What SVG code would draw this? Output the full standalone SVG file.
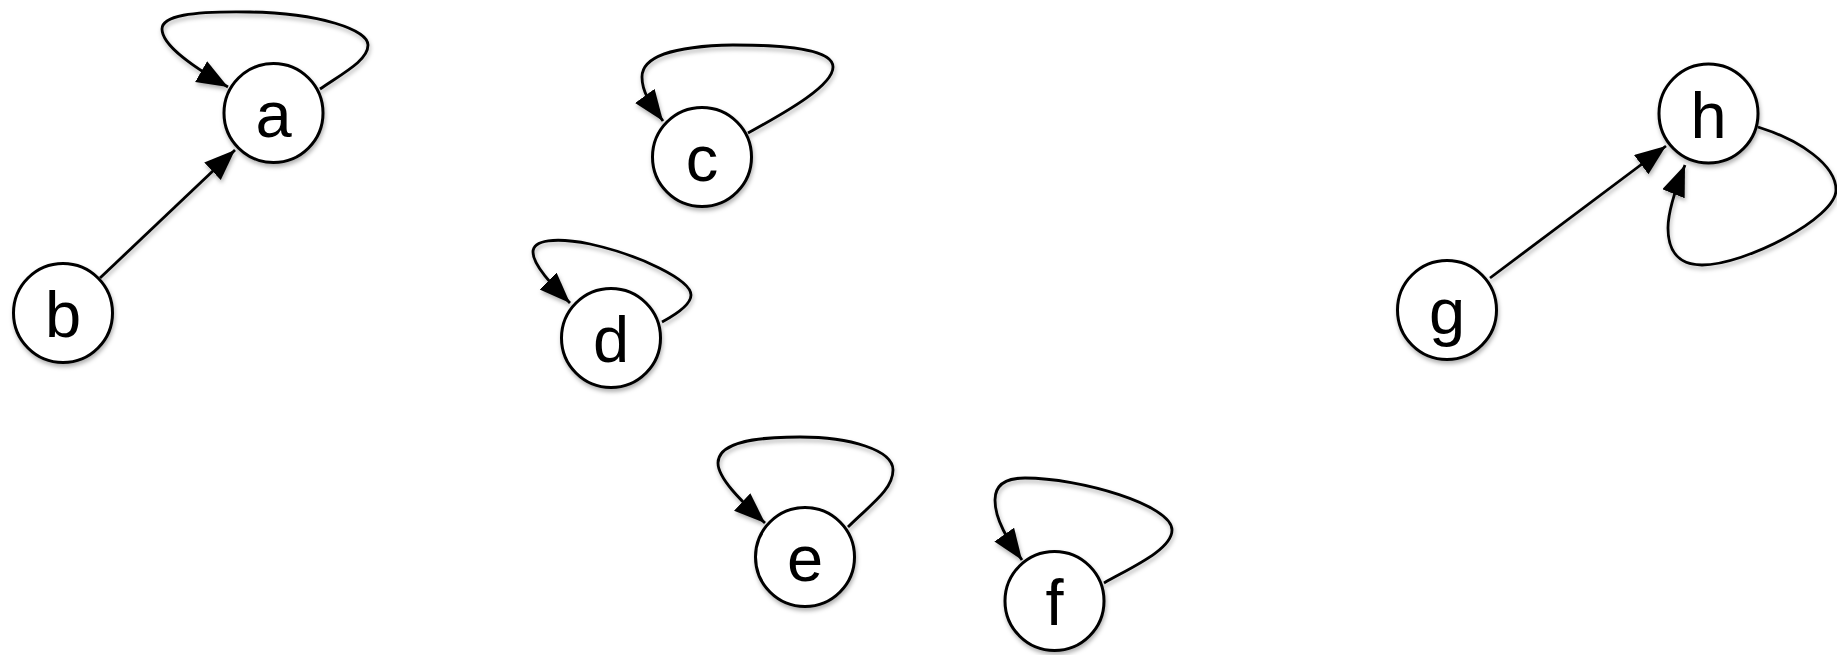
<svg xmlns="http://www.w3.org/2000/svg" width="1837" height="655" viewBox="0 0 1837 655">
<style>
.node circle{fill:#fff;stroke:#000;stroke-width:3}
.node text{font-family:"Liberation Sans",Arial,sans-serif;font-size:65px;fill:#000;text-anchor:middle}
.edge{fill:none;stroke:#000;stroke-width:2.8;marker-end:url(#arr)}
</style>
<defs>
<marker id="arr" markerUnits="userSpaceOnUse" markerWidth="34" markerHeight="26" refX="31" refY="12" orient="auto">
<path d="M0,0 L31,12 L0,24 Z" fill="#000"/>
</marker>
<filter id="sh" x="-20%" y="-20%" width="140%" height="140%">
<feDropShadow dx="1" dy="3" stdDeviation="2" flood-color="#000" flood-opacity="0.3"/>
</filter>
</defs>
<g id="connectors" filter="url(#sh)">
<path class="edge" d="M100 278 L235 150"/>
<path class="edge" d="M1490 278 L1666 146"/>
<path class="edge" d="M320 89 C345 72,368 60,368 45 C368 30,320 13,250 12 C190 11,162 16,162 29 C162 46,195 68,228 87"/>
<path class="edge" d="M748 133 C790 110,833 85,833 67 C833 50,790 45,733 45 C670 46,642 58,642 77 C642 92,650 103,663 121"/>
<path class="edge" d="M662 322 C675 315,691 305,691 295 C691 280,640 255,590 244 C555 237,533 240,533 252 C533 265,552 285,570 303"/>
<path class="edge" d="M848 527 C870 505,893 490,893 470 C893 450,850 437,800 437 C745 437,718 445,718 463 C718 478,740 500,765 523"/>
<path class="edge" d="M1104 583 C1130 568,1172 550,1172 530 C1172 505,1080 478,1025 478 C1000 478,995 490,995 500 C995 520,1008 540,1022 560"/>
<path class="edge" d="M1758 127 C1800 140,1836 165,1836 190 C1836 218,1745 265,1702 265 C1676 265,1668 248,1668 228 C1668 212,1675 190,1685 165"/>
</g>
<g id="node-a" class="node" filter="url(#sh)"><circle cx="273.5" cy="113" r="49.5"/><text x="273.5" y="137">a</text></g>
<g id="node-b" class="node" filter="url(#sh)"><circle cx="63" cy="313" r="49.5"/><text x="63" y="337">b</text></g>
<g id="node-c" class="node" filter="url(#sh)"><circle cx="702" cy="157" r="49.5"/><text x="702" y="181">c</text></g>
<g id="node-d" class="node" filter="url(#sh)"><circle cx="611" cy="338" r="49.5"/><text x="611" y="362">d</text></g>
<g id="node-e" class="node" filter="url(#sh)"><circle cx="805" cy="557" r="49.5"/><text x="805" y="581">e</text></g>
<g id="node-f" class="node" filter="url(#sh)"><circle cx="1054.5" cy="601" r="49.5"/><text x="1054.5" y="625">f</text></g>
<g id="node-g" class="node" filter="url(#sh)"><circle cx="1447" cy="310" r="49.5"/><text x="1447" y="334">g</text></g>
<g id="node-h" class="node" filter="url(#sh)"><circle cx="1708.5" cy="113.5" r="49.5"/><text x="1708.5" y="137.5">h</text></g>
</svg>
